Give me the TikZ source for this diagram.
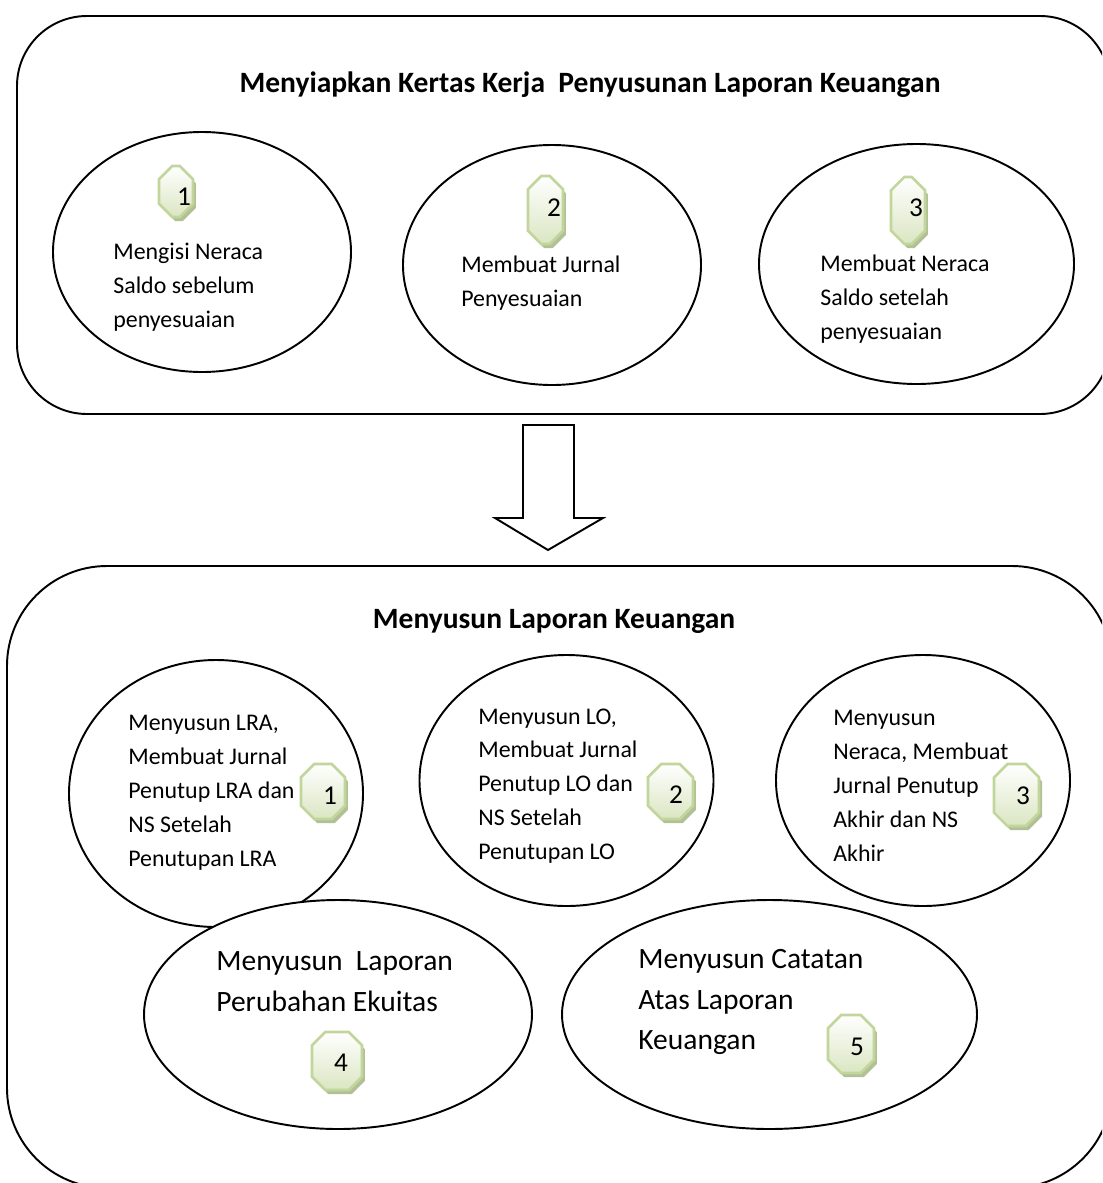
\documentclass[tikz,border=0pt]{standalone}
\usepackage{fontspec}
\setmainfont{Carlito}
\usetikzlibrary{shapes.geometric,shapes.misc,shadows}

\newcommand{\px}{0.02cm}

\tikzset{
  panel/.style={draw=black,fill=white,line width=1.1pt},
  bubble/.style={ellipse,draw=black,fill=white,line width=1.1pt,inner sep=0pt},
  badge/.style={chamfered rectangle,
    chamfered rectangle corners={north west,north east,south west,south east},
    chamfered rectangle xsep=12*\px,
    draw={rgb,255:red,194;green,214;blue,155},line width=1.5pt,
    top color=white,bottom color={rgb,255:red,218;green,230;blue,194},
    drop shadow={shadow xshift=1.7pt,shadow yshift=-2.3pt,opacity=1,fill={rgb,255:red,178;green,192;blue,150}},
    inner sep=0pt,font=\fontsize{13.5pt}{16pt}\selectfont},
  digit/.style={inner sep=0pt,font=\fontsize{15.5pt}{18pt}\selectfont},
  small/.style={anchor=west,align=left,inner sep=0pt,font=\fontsize{13.6pt}{19.3pt}\selectfont},
  large/.style={anchor=west,align=left,inner sep=0pt,font=\fontsize{16.8pt}{23.3pt}\selectfont},
  heading/.style={inner sep=0pt,font=\fontsize{16.8pt}{20pt}\selectfont\bfseries},
}

\begin{document}
\begin{tikzpicture}[x=\px,y=-\px]

  \useasboundingbox (0,0) rectangle (1102,1183);

  \begin{scope}
    \clip (0,0) rectangle (1102,1183);

    % panels
    \draw[panel,rounded corners=70*\px] (17,16) rectangle (1110,414);
    \draw[panel,rounded corners=100*\px] (7,566) rectangle (1112,1188);

    \node[heading] (title1) at (590,85) {Menyiapkan Kertas Kerja\ \ Penyusunan Laporan Keuangan};
    \node[heading] (title2) at (554,621) {Menyusun Laporan Keuangan};

    % upper ellipses
    \begin{scope}[every node/.style={bubble}]
      \node[minimum width=298*\px,minimum height=240*\px] (a1) at (202,252) {};
      \node[minimum width=298*\px,minimum height=240*\px] (a2) at (552,265) {};
      \node[minimum width=315*\px,minimum height=240*\px] (a3) at (916.5,264) {};
    \end{scope}

    \node[small] (t1) at (113,287) {Mengisi Neraca\\Saldo sebelum\\penyesuaian};
    \node[small] (t2) at (461,283) {Membuat Jurnal\\Penyesuaian};
    \node[small] (t3) at (820,299) {Membuat Neraca\\Saldo setelah\\penyesuaian};

    \node[badge,minimum width=34*\px,minimum height=51*\px] (n1) at (176,191.5) {\phantom{1}};
    \node[badge,minimum width=35*\px,minimum height=68*\px] (n2) at (545.5,210) {\phantom{2}};
    \node[badge,minimum width=34*\px,minimum height=67*\px] (n3) at (908,210.5) {\phantom{3}};
    \node[digit] (d1) at (184,197) {1};
    \node[digit] (d2) at (554,208) {2};
    \node[digit] (d3) at (916,208) {3};

    % block arrow
    \draw[fill=white,line width=1.1pt] (523,425) -- (574,425) -- (574,518) -- (603,518)
      -- (548,550) -- (495,518) -- (523,518) -- cycle;

    % lower ellipses
    \begin{scope}[every node/.style={bubble}]
      \node[minimum width=294*\px,minimum height=267*\px] (b1) at (216,793.5) {};
      \node[minimum width=294*\px,minimum height=251*\px] (b2) at (566.5,780.5) {};
      \node[minimum width=294*\px,minimum height=251*\px] (b3) at (923,780.5) {};
      \node[minimum width=388*\px,minimum height=229*\px] (b4) at (338,1014.5) {};
      \node[minimum width=415*\px,minimum height=229*\px] (b5) at (769.5,1014.5) {};
    \end{scope}

    \node[small] (s1) at (128,793) {Menyusun LRA,\\Membuat Jurnal\\Penutup LRA dan\\NS Setelah\\Penutupan LRA};
    \node[small] (s2) at (478,786) {Menyusun LO,\\Membuat Jurnal\\Penutup LO dan\\NS Setelah\\Penutupan LO};
    \node[small] (s3) at (833,786) {Menyusun\\Neraca, Membuat\\Jurnal Penutup\\Akhir dan NS\\Akhir};
    \node[large] (s4) at (216,981.5) {Menyusun\ \ Laporan\\Perubahan Ekuitas};
    \node[large] (s5) at (638,1002) {Menyusun Catatan\\Atas Laporan\\Keuangan};

    \node[badge,minimum width=44*\px,minimum height=55*\px] (m1) at (323,791.5) {\phantom{1}};
    \node[badge,minimum width=45*\px,minimum height=55*\px] (m2) at (670.5,791.5) {\phantom{2}};
    \node[badge,minimum width=45*\px,minimum height=62*\px] (m3) at (1016.5,795) {\phantom{3}};
    \node[badge,minimum width=50*\px,minimum height=58*\px] (m4) at (337,1061) {\phantom{4}};
    \node[badge,minimum width=46*\px,minimum height=58*\px] (m5) at (851,1044) {\phantom{5}};
    \node[digit] (e1) at (330,796) {1};
    \node[digit] (e2) at (676,795) {2};
    \node[digit] (e3) at (1023,796) {3};
    \node[digit] (e4) at (341,1063) {4};
    \node[digit] (e5) at (857,1047) {5};
  \end{scope}

\end{tikzpicture}
\end{document}
